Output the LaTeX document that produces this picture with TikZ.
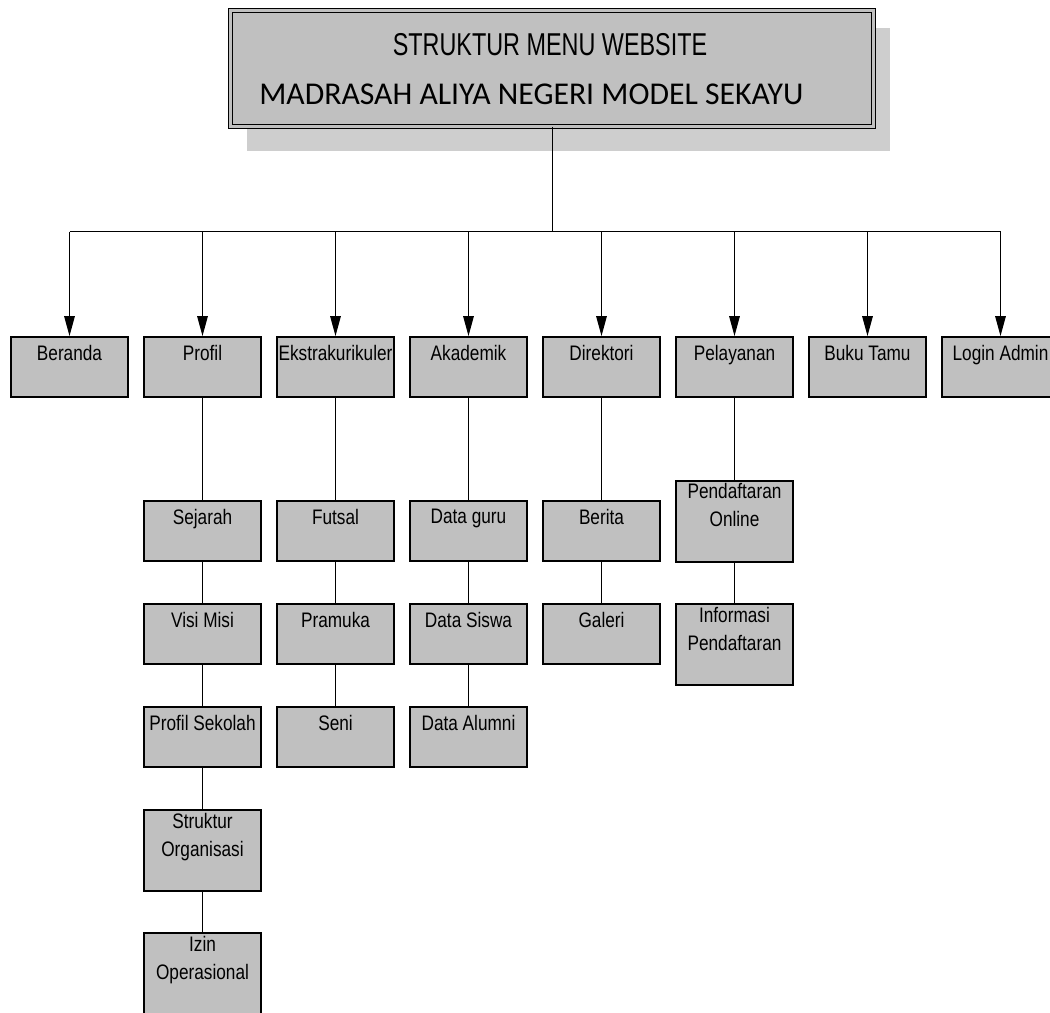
\documentclass[tikz,border=0pt]{standalone}
\usepackage{fontspec}
\setmainfont{Liberation Sans}
\newfontfamily\boxfont{Liberation Sans}[FakeStretch=0.82]
\newfontfamily\titlefont{Liberation Sans}[FakeStretch=0.74]
\newfontfamily\calfont{Carlito}
\usetikzlibrary{arrows.meta}
\definecolor{boxgray}{RGB}{192,192,192}
\definecolor{shadowgray}{RGB}{206,206,206}
\begin{document}
\begin{tikzpicture}[x=0.75pt,y=-0.75pt,
  mbox/.style={draw=black, line width=1.5pt, fill=boxgray, minimum width=87.75pt, minimum height=45pt, inner sep=0pt},
  tallbox/.style={mbox, minimum height=60.75pt},
  lbl/.style={font=\boxfont\fontsize{15.75}{21}\selectfont, inner sep=0pt, anchor=north, align=center},
  one/.style={label={[lbl,yshift=-6.75pt]north:#1}},
  two/.style={label={[lbl,yshift=-3pt]north:{#1}}},
  conn/.style={draw=black, line width=0.75pt},
  arr/.style={conn, -{Triangle[length=15pt,width=8pt]}}
]
\useasboundingbox (0,0) rectangle (1050,1013);
% shadow of title
\fill[shadowgray] (247,28) rectangle (890,151);
% title box
\node[draw=black, line width=0.9pt, double=boxgray, double distance=2.2pt, fill=boxgray,
      minimum width=482pt, minimum height=86.7pt, inner sep=0pt] (title) at (552,68.5) {};
\node[font=\titlefont\fontsize{23.7}{28}\selectfont, anchor=base, inner sep=0pt] (t1) at (550,56) {STRUKTUR MENU WEBSITE};
\node[font=\calfont\fontsize{23.8}{28}\selectfont, anchor=base west, inner sep=0pt] (t2) at (259,105) {MADRASAH ALIYA NEGERI MODEL SEKAYU};

% top row
\node[mbox, one=Beranda] (bera) at (69.5,367) {};
\node[mbox, one=Profil] (prof) at (202.5,367) {};
\node[mbox, one=Ekstrakurikuler] (ekst) at (335.5,367) {};
\node[mbox, one=Akademik] (akad) at (468.5,367) {};
\node[mbox, one=Direktori] (dire) at (601.5,367) {};
\node[mbox, one=Pelayanan] (pela) at (734.5,367) {};
\node[mbox, one=Buku Tamu] (buku) at (867.5,367) {};
\node[mbox, one=Login Admin] (logi) at (1000.5,367) {};

% Profil children
\node[mbox, one=Sejarah] (seja) at (202.5,531) {};
\node[mbox, one=Visi Misi] (visi) at (202.5,634) {};
\node[mbox, one=Profil Sekolah] (psek) at (202.5,737) {};
\node[tallbox, two=Struktur\\Organisasi] (stru) at (202.5,850.5) {};
\node[tallbox, two=Izin\\Operasional] (izin) at (202.5,973.5) {};
% Ekstrakurikuler children
\node[mbox, one=Futsal] (futs) at (335.5,531) {};
\node[mbox, one=Pramuka] (pram) at (335.5,634) {};
\node[mbox, one=Seni] (seni) at (335.5,737) {};
% Akademik children
\node[mbox, one=Data guru] (dgur) at (468.5,531) {};
\node[mbox, one=Data Siswa] (dsis) at (468.5,634) {};
\node[mbox, one=Data Alumni] (dalu) at (468.5,737) {};
% Direktori children
\node[mbox, one=Berita] (beri) at (601.5,531) {};
\node[mbox, one=Galeri] (gale) at (601.5,634) {};
% Pelayanan children
\node[tallbox, two=Pendaftaran\\Online] (pdon) at (734.5,521) {};
\node[tallbox, two=Informasi\\Pendaftaran] (info) at (734.5,644.5) {};

% connectors from title
\coordinate (j) at (552,232);
\draw[conn] (title.south) -- (j);
\draw[conn] (bera.north |- j) -- (logi.north |- j);
\foreach \n in {bera,prof,ekst,akad,dire,pela,buku,logi}
  \draw[arr] (\n.north |- j) -- (\n.north);

% vertical chains
\draw[conn] (prof.south) -- (seja.north);
\draw[conn] (seja.south) -- (visi.north);
\draw[conn] (visi.south) -- (psek.north);
\draw[conn] (psek.south) -- (stru.north);
\draw[conn] (stru.south) -- (izin.north);
\draw[conn] (ekst.south) -- (futs.north);
\draw[conn] (futs.south) -- (pram.north);
\draw[conn] (pram.south) -- (seni.north);
\draw[conn] (akad.south) -- (dgur.north);
\draw[conn] (dgur.south) -- (dsis.north);
\draw[conn] (dsis.south) -- (dalu.north);
\draw[conn] (dire.south) -- (beri.north);
\draw[conn] (beri.south) -- (gale.north);
\draw[conn] (pela.south) -- (pdon.north);
\draw[conn] (pdon.south) -- (info.north);
\end{tikzpicture}
\end{document}
